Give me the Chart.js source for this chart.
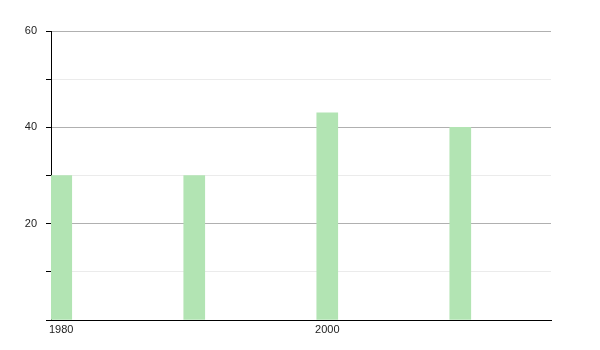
<!DOCTYPE html>
<html>
<head>
<meta charset="utf-8">
<script src="https://cdn.jsdelivr.net/npm/chart.js@4"></script>
<style>
  html, body { margin: 0; padding: 0; background: #fff; }
  #wrap { width: 600px; height: 350px; }
</style>
</head>
<body>
<div id="wrap"><canvas id="chart"></canvas></div>
<script>
// Données du graphique
const annees = [1980, 1990, 2000, 2010];
const valeurs = [30, 30, 43, 40];
const xTickLabels = [1980, 2000];
const yTickLabels = [20, 40, 60];

// Graphique : barres par décennie
const ctx = document.getElementById('chart');
const chart = new Chart(ctx, {
    type: 'bar',
    data: {
        datasets: [{
            data: annees.map((a, i) => ({ x: a, y: valeurs[i] })),
            backgroundColor: '#b2e4b3',
            borderWidth: 0,
            barThickness: 21
        }]
    },
    options: {
        responsive: true,
        maintainAspectRatio: false,
        animation: false,
        layout: {
            padding: { left: 0, right: 49, top: 31, bottom: 10 }
        },
        plugins: {
            legend: { display: false },
            tooltip: { enabled: false }
        },
        scales: {
            x: {
                type: 'linear',
                min: 1979.23,
                max: 2016.82,
                offset: false,
                grid: { display: false, drawTicks: false },
                border: { display: true, color: '#000', width: 1 },
                afterBuildTicks: axis => {
                    axis.ticks = xTickLabels.map(v => ({ value: v }));
                },
                afterFit: axis => { axis.height = 20; },
                ticks: {
                    autoSkip: false,
                    maxRotation: 0,
                    padding: 3,
                    color: '#222',
                    font: { family: 'Liberation Sans', size: 11 },
                    callback: v => String(v)
                }
            },
            y: {
                min: 0,
                max: 60,
                afterFit: axis => { axis.width = 51; },
                grid: {
                    color: c => (c.tick && c.tick.value % 20 === 0) ? '#b0b0b0' : '#ebebeb',
                    tickColor: '#000',
                    tickLength: 5
                },
                border: { display: true, color: '#000', width: 1 },
                ticks: {
                    stepSize: 10,
                    padding: 9,
                    color: '#222',
                    font: { family: 'Liberation Sans', size: 11 },
                    callback: v => yTickLabels.includes(v) ? String(v) : ''
                }
            }
        }
    }
});
</script>
</body>
</html>
